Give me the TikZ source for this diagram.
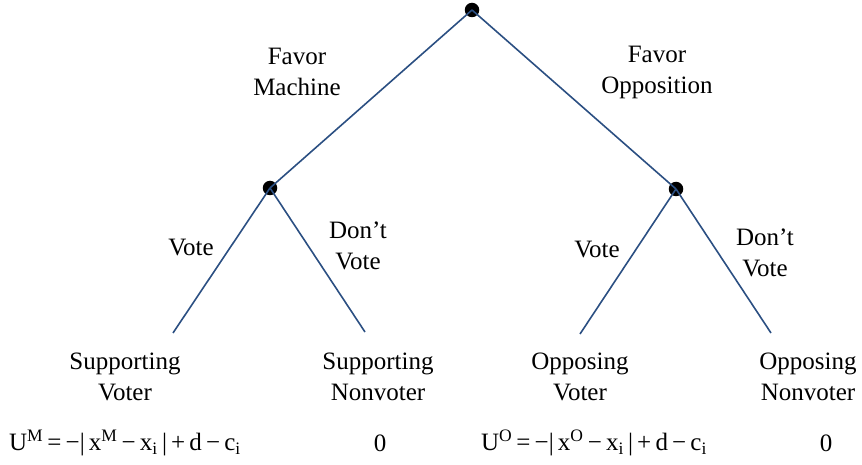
\documentclass[tikz,border=0pt]{standalone}
\usepackage{fontspec}
\setmainfont{Liberation Serif}
\newfontfamily\treefont{Liberation Serif}
\definecolor{branch}{RGB}{43,79,130}
\begin{document}
\begin{tikzpicture}[x=1pt, y=-1pt,
        every node/.style={font=\treefont\fontsize{25}{31}\selectfont, align=center},
        decision/.style={shape=circle, fill=black, inner sep=0pt, minimum size=14.5pt},
        edge/.style={draw=branch, line width=1.6pt}]
        \useasboundingbox (0,0) rectangle (862,465);

        % decision points
        \node[decision] (root) at (472,10) {};
        \node[decision] (mach) at (270,188) {};
        \node[decision] (opp) at (676,189) {};

        % ends of the voting branches
        \coordinate (sv) at (173,333);
        \coordinate (sn) at (365,332);
        \coordinate (ov) at (580,334);
        \coordinate (on) at (771,333);

        \draw[edge] (root.center) -- (mach.center);
        \draw[edge] (root.center) -- (opp.center);
        \draw[edge] (mach.center) -- (sv);
        \draw[edge] (mach.center) -- (sn);
        \draw[edge] (opp.center) -- (ov);
        \draw[edge] (opp.center) -- (on);

        % branch labels
        \node (favm) at (297,72) {Favor\\Machine};
        \node (favo) at (657,72) {Favor\\Opposition};
        \node (vm) at (191,248) {Vote};
        \node (nm) at (358,246) {Don’t\\Vote};
        \node (vo) at (597,250) {Vote};
        \node (no) at (765,253) {Don’t\\Vote};

        % outcomes
        \node (svl) at (125,377) {Supporting\\Voter};
        \node (snl) at (378,377) {Supporting\\Nonvoter};
        \node (ovl) at (580,377) {Opposing\\Voter};
        \node (onl) at (808,377) {Opposing\\Nonvoter};

        % payoffs
        \node (svp) at (125,443) {U\textsuperscript{M}\,=\,−|\,x\textsuperscript{M}\,−\,x\textsubscript{i}\,|\,+\,d\,−\,c\textsubscript{i}};
        \node (snp) at (380,443) {0};
        \node (ovp) at (594,443) {U\textsuperscript{O}\,=\,−|\,x\textsuperscript{O}\,−\,x\textsubscript{i}\,|\,+\,d\,−\,c\textsubscript{i}};
        \node (onp) at (826,443) {0};
\end{tikzpicture}
\end{document}
